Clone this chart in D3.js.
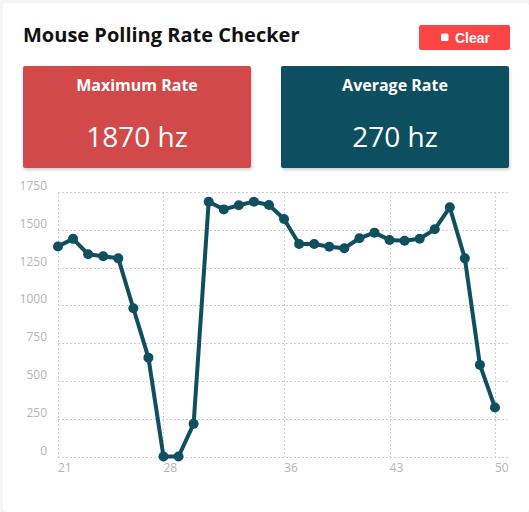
<!DOCTYPE html>
<html>
<head>
<meta charset="UTF-8">
<style>
  html, body { margin: 0; padding: 0; background: #fff; }
  svg { display: block; font-family: "Open Sans", sans-serif; }
</style>
</head>
<body>
<svg></svg>
<script src="https://d3js.org/d3.v7.min.js"></script>
<script>
const width = 529, height = 512;

// chart data
const samples = [21, 22, 23, 24, 25, 26, 27, 28, 29, 30, 31, 32, 33, 34, 35,
                 36, 37, 38, 39, 40, 41, 42, 43, 44, 45, 46, 47, 48, 49, 50];
const rates = [1390, 1440, 1338, 1325, 1311, 981, 654, 0, 0, 216, 1686, 1635, 1662, 1686, 1664,
               1571, 1406, 1406, 1388, 1378, 1444, 1481, 1433, 1428, 1441, 1503, 1649, 1311, 606, 324];
const xTicks = [21, 28, 36, 43, 50];
const yTicks = [0, 250, 500, 750, 1000, 1250, 1500, 1750];
const maxRate = "1870 hz";
const avgRate = "270 hz";

const svg = d3.select("svg")
    .attr("width", width)
    .attr("height", height);

// card shadow
const defs = svg.append("defs");
const sh = defs.append("filter").attr("id", "shadow")
    .attr("x", "-10%").attr("y", "-10%").attr("width", "120%").attr("height", "130%");
sh.append("feDropShadow").attr("dx", 1).attr("dy", 2).attr("stdDeviation", 1.5)
    .attr("flood-color", "#000").attr("flood-opacity", 0.18);

// page edge
svg.append("rect").attr("x", 0).attr("y", 0).attr("width", width).attr("height", height).attr("fill", "#f4f4f4");
svg.append("rect").attr("x", 3).attr("y", 3).attr("width", width - 3).attr("height", height - 3)
    .attr("rx", 4).attr("fill", "#fff");

// title
svg.append("text")
    .attr("x", 23).attr("y", 42)
    .attr("font-size", 20).attr("font-weight", 700).attr("fill", "#111")
    .text("Mouse Polling Rate Checker");

// clear button
const btn = svg.append("g").attr("transform", "translate(419,25)");
btn.append("rect").attr("width", 91).attr("height", 25).attr("rx", 2).attr("fill", "#fb4545");
btn.append("rect").attr("x", 22).attr("y", 8.5).attr("width", 7.5).attr("height", 7.5).attr("rx", 1.5).attr("fill", "#fff");
btn.append("text").attr("x", 36).attr("y", 17.5)
    .attr("font-family", "Liberation Sans, Arial, sans-serif")
    .attr("font-size", 14).attr("font-weight", 700).attr("fill", "#fff")
    .text("Clear");

// stat cards
const cards = [
    {label: "Maximum Rate", value: maxRate, x: 23, color: "#d14848"},
    {label: "Average Rate", value: avgRate, x: 281, color: "#114f60"}
];
const card = svg.selectAll("g.card").data(cards).enter().append("g")
    .attr("class", "card")
    .attr("transform", d => `translate(${d.x},66)`);
card.append("rect").attr("width", 228).attr("height", 102).attr("rx", 2)
    .attr("fill", d => d.color).attr("filter", "url(#shadow)");
card.append("text").attr("x", 114).attr("y", 25).attr("text-anchor", "middle")
    .attr("font-size", 16).attr("font-weight", 700).attr("fill", "#fff")
    .text(d => d.label);
card.append("text").attr("x", 114).attr("y", 81).attr("text-anchor", "middle")
    .attr("font-size", 28).attr("fill", "#fff")
    .text(d => d.value);

// chart
const x = d3.scaleLinear().domain([21, 50]).range([58, 495]);
const y = d3.scaleLinear().domain([0, 1750]).range([456.5, 192]);

const grid = svg.append("g")
    .attr("stroke", "#cfcfcf").attr("stroke-width", 1).attr("stroke-dasharray", "2,2");
grid.selectAll("line.h").data(yTicks).enter().append("line")
    .attr("x1", 58).attr("x2", 508)
    .attr("y1", d => Math.round(y(d)) + 0.5).attr("y2", d => Math.round(y(d)) + 0.5);
grid.selectAll("line.v").data(xTicks).enter().append("line")
    .attr("y1", 192).attr("y2", 457)
    .attr("x1", d => Math.round(x(d)) + 0.5).attr("x2", d => Math.round(x(d)) + 0.5);

svg.append("g").selectAll("text").data(yTicks).enter().append("text")
    .attr("x", 47).attr("y", d => y(d) - 2)
    .attr("text-anchor", "end")
    .attr("font-size", 12).attr("fill", "#b5b5b5")
    .text(d => d);

svg.append("g").selectAll("text").data(xTicks).enter().append("text")
    .attr("x", d => x(d)).attr("y", 472)
    .attr("font-size", 12).attr("fill", "#b5b5b5")
    .text(d => d);

const pts = samples.map((s, i) => [s, rates[i]]);
svg.append("path")
    .datum(pts)
    .attr("fill", "none").attr("stroke", "#0f4f5f").attr("stroke-width", 4)
    .attr("stroke-linejoin", "round")
    .attr("d", d3.line().x(d => x(d[0])).y(d => y(d[1])));

svg.append("g").selectAll("circle").data(pts).enter().append("circle")
    .attr("cx", d => x(d[0])).attr("cy", d => y(d[1])).attr("r", 5)
    .attr("fill", "#0f4f5f");
</script>
</body>
</html>
